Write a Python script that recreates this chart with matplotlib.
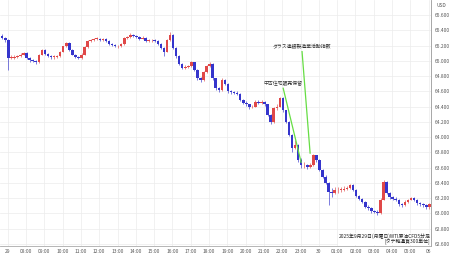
import numpy as np
import matplotlib
matplotlib.use('Agg')
import matplotlib.pyplot as plt

plt.rcParams['font.family'] = ['Noto Sans CJK JP', 'DejaVu Sans']

# 10-minute bars, WTI CFD, 2025-09-29 07:00 -> 09-30 06:10 (JST)
first_open = 65.33
closes = [65.30, 65.27, 65.04, 65.04, 65.05, 65.06, 65.08, 65.10, 65.04, 65.01,
          65.00, 64.98, 65.08, 65.14, 65.09, 65.06, 65.05, 65.05, 65.06, 65.12,
          65.19, 65.23, 65.14, 65.08, 65.05, 65.04, 65.08, 65.18, 65.26, 65.27,
          65.29, 65.29, 65.27, 65.29, 65.26, 65.22, 65.21, 65.19, 65.19, 65.22,
          65.30, 65.31, 65.34, 65.33, 65.31, 65.29, 65.30, 65.26, 65.27, 65.27,
          65.26, 65.22, 65.17, 65.12, 65.27, 65.34, 65.17, 65.06, 64.96, 64.91,
          64.92, 64.93, 64.98, 64.88, 64.77, 64.75, 64.85, 64.93, 64.96, 64.77,
          64.64, 64.62, 64.75, 64.70, 64.60, 64.59, 64.58, 64.57, 64.49, 64.45,
          64.43, 64.39, 64.40, 64.46, 64.45, 64.46, 64.43, 64.29, 64.20, 64.38,
          64.40, 64.51, 64.35, 64.20, 64.03, 63.86, 63.90, 63.70, 63.63, 63.63,
          63.61, 63.63, 63.76, 63.70, 63.57, 63.48, 63.40, 63.28, 63.27, 63.30,
          63.31, 63.31, 63.32, 63.33, 63.37, 63.31, 63.23, 63.19, 63.15, 63.09,
          63.07, 63.03, 63.02, 63.00, 63.18, 63.41, 63.27, 63.21, 63.19, 63.18,
          63.12, 63.11, 63.15, 63.18, 63.20, 63.18, 63.13, 63.12, 63.11, 63.08,
          63.12]
highs = [65.35, 65.31, 65.28, 65.07, 65.07, 65.08, 65.10, 65.12, 65.11, 65.05,
         65.03, 65.01, 65.09, 65.16, 65.15, 65.10, 65.07, 65.07, 65.08, 65.13,
         65.20, 65.25, 65.24, 65.15, 65.09, 65.06, 65.10, 65.19, 65.27, 65.29,
         65.30, 65.31, 65.30, 65.30, 65.30, 65.27, 65.23, 65.22, 65.21, 65.23,
         65.31, 65.33, 65.36, 65.35, 65.34, 65.32, 65.32, 65.31, 65.29, 65.29,
         65.28, 65.27, 65.23, 65.18, 65.28, 65.38, 65.35, 65.18, 65.07, 64.97,
         64.94, 64.95, 65.00, 64.99, 64.89, 64.79, 64.87, 64.94, 64.98, 64.97,
         64.78, 64.66, 64.77, 64.76, 64.71, 64.62, 64.61, 64.60, 64.58, 64.50,
         64.47, 64.44, 64.42, 64.48, 64.48, 64.48, 64.47, 64.44, 64.30, 64.40,
         64.43, 64.53, 64.52, 64.36, 64.21, 64.04, 63.96, 63.91, 63.72, 63.67,
         63.65, 63.66, 63.78, 63.77, 63.71, 63.58, 63.50, 63.41, 63.33, 63.34,
         63.35, 63.35, 63.36, 63.36, 63.39, 63.38, 63.32, 63.24, 63.20, 63.16,
         63.11, 63.08, 63.05, 63.04, 63.20, 63.44, 63.42, 63.28, 63.23, 63.21,
         63.19, 63.14, 63.17, 63.19, 63.22, 63.21, 63.19, 63.15, 63.13, 63.12,
         63.14]
lows = [65.28, 65.25, 64.88, 65.02, 65.03, 65.04, 65.05, 65.07, 65.03, 64.99,
        64.98, 64.96, 64.97, 65.07, 65.07, 65.05, 65.03, 65.03, 65.04, 65.05,
        65.11, 65.18, 65.13, 65.07, 65.04, 65.02, 65.03, 65.07, 65.17, 65.25,
        65.26, 65.27, 65.26, 65.26, 65.25, 65.21, 65.19, 65.18, 65.17, 65.18,
        65.21, 65.29, 65.30, 65.31, 65.30, 65.27, 65.28, 65.25, 65.25, 65.25,
        65.24, 65.21, 65.15, 65.06, 65.11, 65.26, 65.15, 65.04, 64.94, 64.89,
        64.89, 64.90, 64.92, 64.86, 64.75, 64.72, 64.74, 64.84, 64.92, 64.75,
        64.62, 64.59, 64.61, 64.68, 64.58, 64.57, 64.56, 64.55, 64.47, 64.43,
        64.41, 64.37, 64.38, 64.39, 64.43, 64.44, 64.41, 64.27, 64.17, 64.19,
        64.36, 64.39, 64.33, 64.18, 64.01, 63.80, 63.84, 63.68, 63.60, 63.60,
        63.58, 63.59, 63.62, 63.68, 63.55, 63.46, 63.38, 63.11, 63.22, 63.25,
        63.27, 63.28, 63.29, 63.30, 63.32, 63.29, 63.21, 63.17, 63.13, 63.07,
        63.05, 63.01, 63.00, 62.98, 62.99, 63.17, 63.25, 63.19, 63.17, 63.16,
        63.10, 63.09, 63.10, 63.14, 63.17, 63.16, 63.11, 63.10, 63.09, 63.06,
        63.06]

hour_labels = ['29', '08:00', '09:00', '10:00', '11:00', '12:00', '13:00', '14:00',
               '15:00', '16:00', '17:00', '18:00', '19:00', '20:00', '21:00', '22:00',
               '23:00', '30', '01:00', '02:00', '03:00', '04:00', '05:00', '06']
price_ticks = [62.6, 62.8, 63.0, 63.2, 63.4, 63.6, 63.8, 64.0, 64.2, 64.4,
               64.6, 64.8, 65.0, 65.2, 65.4, 65.6]

# events: (label, event time h after 07:00, price at event, text time, text price)
events = [('中古住宅販売保留', 16.03, 63.67, 15.05, 64.64),
          ('ダラス連銀製造業活動指数', 16.52, 63.79, 16.08, 65.12)]

up_col = '#e04848'
down_col = '#3535cc'

closes = np.array(closes)
highs = np.array(highs)
lows = np.array(lows)
opens = np.concatenate([[first_open], closes[:-1]])
t = -0.3 + np.arange(len(closes)) / 6.0

fig = plt.figure(figsize=(4.5, 2.58), dpi=100)
ax = fig.add_axes([0, 0.0446, 0.958, 0.9554])

ax.set_xlim(-0.42, 23.13)
ax.set_ylim(62.566, 65.797)

ax.set_xticks(range(len(hour_labels)))
ax.set_xticklabels(hour_labels)
ax.set_yticks(price_ticks)
ax.set_yticklabels(['%.3f' % p for p in price_ticks])
ax.yaxis.tick_right()
ax.tick_params(axis='both', length=0, labelsize=3.5, labelcolor='#555555')
ax.tick_params(axis='x', pad=2)
ax.tick_params(axis='y', pad=2.5)
ax.grid(True, color='#ececec', linewidth=0.5)
ax.set_axisbelow(True)

for s in ['top', 'left']:
    ax.spines[s].set_visible(False)
ax.spines['bottom'].set_color('#aaaaaa')
ax.spines['right'].set_color('#999999')
ax.spines['bottom'].set_linewidth(0.6)
ax.spines['right'].set_linewidth(0.6)

colors = np.where(closes >= opens, up_col, down_col)
ax.vlines(t, lows, highs, colors=colors, linewidth=0.45, zorder=2)
body_bottom = np.minimum(opens, closes)
body_h = np.maximum(np.abs(closes - opens), 0.008)
ax.bar(t, body_h, bottom=body_bottom, width=0.14, color=colors, linewidth=0, zorder=3)

for label, te, pe, tt, pt in events:
    ax.plot([tt, te], [pt, pe], color='#66dd44', linewidth=0.9, zorder=4)
    ax.text(tt, pt + 0.03, label, fontsize=3.5, ha='center', va='bottom', color='#333333')

ax.text(23.08, 62.585, '2025年9月29日(月曜日)WTI原油CFD5分足\n[タテ軸通貨300単位]',
        fontsize=3.5, ha='right', va='bottom', multialignment='right',
        linespacing=1.1, color='#222222',
        bbox=dict(facecolor='white', edgecolor='none', pad=0.3), zorder=5)

fig.text(0.971, 0.977, 'USD', fontsize=3.5, color='#555555', va='center')

fig.savefig('out.png', dpi=100)
